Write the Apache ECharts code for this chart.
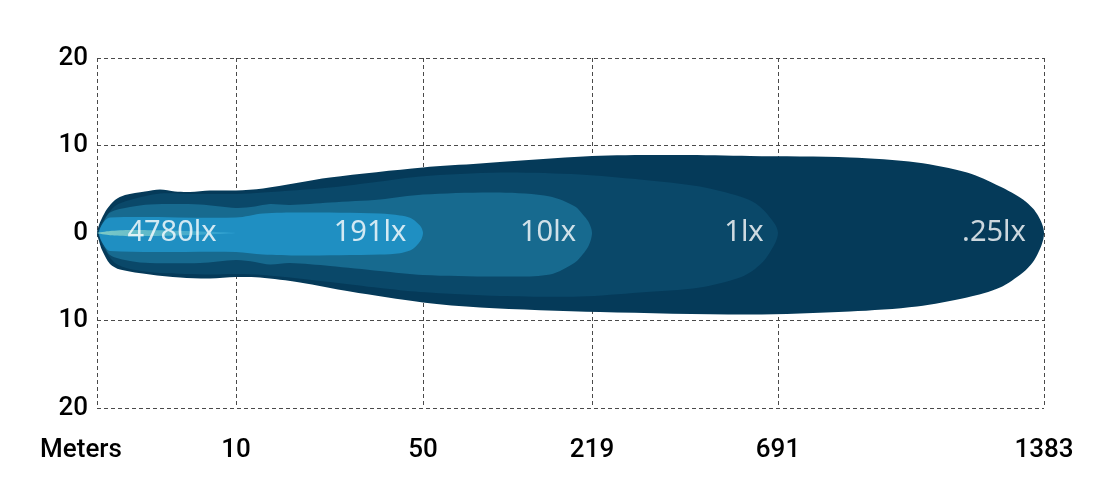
<!DOCTYPE html>
<html>
<head>
<meta charset="utf-8">
<style>html,body{margin:0;padding:0;background:#fff}#c{width:1096px;height:480px}</style>
<script src="https://cdn.jsdelivr.net/npm/echarts@6/dist/echarts.min.js"></script>
</head>
<body>
<div id="c"></div>
<script>
// X positions of grid ticks (chart distance units) and their labels
const gridX = [0, 139, 326, 495, 681, 947];
const gridXLabels = ['Meters', '10', '50', '219', '691', '1383'];
const yTicks = [-20, -10, 0, 10, 20];

// Lux labels and where they sit
const luxLabels = ['4780lx', '191lx', '10lx', '1lx', '.25lx'];
const luxLabelX = [75, 273, 451, 647, 897];

// Beam outlines: [distance, degrees]
const beam025Top = [[0,0],[2,0.91],[5,1.71],[10,2.74],[18,3.77],[28,4.34],[48,4.74],[63,4.97],[78,4.74],[93,4.69],[113,4.86],[139,4.86],[166,5.09],[233,6.34],[326,7.49],[383,7.94],[495,8.8],[583,8.91],[653,8.8],[753,8.63],[820,8.06],[870,6.91],[903,5.31],[926,3.83],[936,2.8],[941,2.0],[944.5,1.2],[946.5,0.5],[947,0]];
const beam025Bottom = [[2,-0.91],[5,-1.94],[13,-3.54],[23,-4.17],[53,-4.74],[83,-5.09],[113,-5.2],[139,-5.03],[163,-5.09],[203,-5.66],[253,-6.69],[326,-7.94],[383,-8.51],[503,-9.03],[653,-9.31],[753,-8.97],[820,-8.4],[870,-7.37],[903,-6.23],[926,-4.51],[936,-3.3],[941,-2.3],[944.5,-1.4],[946.5,-0.6]];

const beam1Top = [[1,0],[3,0.8],[8,1.71],[18,3.09],[33,3.77],[63,4.51],[93,4.46],[139,4.46],[166,4.63],[233,5.2],[283,5.89],[323,6.46],[403,6.91],[483,6.69],[543,6.11],[603,5.31],[643,4.17],[658,3.43],[668,2.46],[675,1.49],[679,0.8],[681,0]];
const beam1Bottom = [[3,-0.8],[8,-1.94],[18,-3.43],[33,-4.11],[63,-4.57],[113,-4.74],[139,-4.69],[166,-4.8],[233,-5.6],[283,-6.29],[323,-6.74],[403,-7.2],[483,-7.26],[543,-6.8],[603,-6.23],[643,-5.09],[658,-4.1],[668,-3.03],[675,-1.8],[679,-0.95]];

const beam10Top = [[2,0],[6,1.14],[13,2.34],[33,2.97],[53,3.26],[103,3.26],[139,2.86],[158,3.03],[173,3.31],[193,3.2],[233,3.49],[283,3.83],[326,4.4],[403,4.63],[453,4.17],[478,3.03],[486,2.1],[491,1.37],[494,0.6],[495,0]];
const beam10Bottom = [[6,-1.14],[13,-2.51],[33,-3.2],[53,-3.43],[103,-3.43],[139,-3.09],[158,-3.31],[173,-3.6],[193,-3.43],[233,-3.77],[283,-4.34],[326,-4.8],[403,-4.97],[453,-4.74],[478,-3.37],[486,-2.4],[491,-1.6],[494,-0.7]];

const beam191Top = [[2,0],[6,1.14],[13,1.77],[139,1.77],[166,2.23],[203,2.34],[283,2.23],[303,2.0],[313,1.75],[319,1.3],[324,0.7],[326,0]];
const beam191Bottom = [[6,-1.26],[13,-2.06],[139,-2.17],[166,-2.46],[203,-2.57],[283,-2.46],[303,-2.3],[313,-2.0],[319,-1.5],[324,-0.8]];

const beam4780Top = [[0,0],[13,0.23],[33,0.34],[80,0.26],[139,0]];
const beam4780Bottom = [[13,-0.26],[33,-0.37],[80,-0.29]];

function layer(name, top, bottom, fill, smooth) {
  return {
    type: 'custom', name: name, silent: true,
    data: [[0, 0]],
    renderItem: function (params, api) {
      const pts = top.concat(bottom.slice().reverse()).map(function (p) { return api.coord(p); });
      return { type: 'polygon', shape: { points: pts, smooth: smooth }, style: { fill: fill } };
    }
  };
}

const chart = echarts.init(document.getElementById('c'));
const dash = { type: [4, 3], color: '#4a4a4a', width: 1 };
const axisFont = { fontFamily: 'Roboto', fontWeight: 500, fontSize: 26, color: '#000' };

chart.setOption({
  animation: false,
  grid: { left: 97, right: 52, top: 58, bottom: 72, containLabel: false },
  xAxis: {
    type: 'value', min: 0, max: 947,
    axisLine: { show: false },
    axisTick: { show: false, customValues: gridX },
    axisLabel: Object.assign({
      customValues: gridX, margin: 29,
      formatter: function (v) {
        const i = gridX.indexOf(v);
        const t = i >= 0 ? gridXLabels[i] : '';
        return i === 0 ? '{m|' + t + '}' : t;
      },
      rich: { m: Object.assign({ padding: [0, 32, 0, 0] }, axisFont) }
    }, axisFont),
    splitLine: { show: true, lineStyle: dash }
  },
  yAxis: {
    type: 'value', min: -20, max: 20, interval: 10,
    axisLine: { show: false }, axisTick: { show: false },
    axisLabel: Object.assign({ margin: 9, formatter: function (v) { return String(Math.abs(v)); } }, axisFont),
    splitLine: { show: true, lineStyle: dash }
  },
  series: [
    layer('.25lx', beam025Top, beam025Bottom, '#053a59', 0.3),
    layer('1lx', beam1Top, beam1Bottom, '#0a4869', 0.3),
    layer('10lx', beam10Top, beam10Bottom, '#176a8f', 0.3),
    layer('191lx', beam191Top, beam191Bottom, '#1f8fc2', 0.3),
    layer('4780lx', beam4780Top, beam4780Bottom, new echarts.graphic.LinearGradient(0, 0, 1, 0, [
      { offset: 0, color: '#7fcac6' }, { offset: 1, color: '#2a9dd0' }]), 0.2),
    {
      type: 'scatter', symbolSize: 0, silent: true,
      data: luxLabels.map(function (t, i) { return { name: t, value: [luxLabelX[i], 0] }; }),
      label: { show: true, position: 'inside', formatter: '{b}', color: '#fff', fontFamily: 'Noto Sans', fontSize: 29 }
    }
  ]
});
</script>
</body>
</html>
